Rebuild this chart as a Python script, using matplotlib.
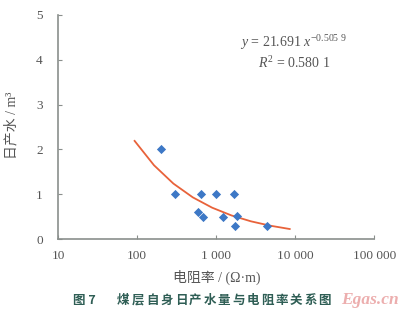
import numpy as np
import matplotlib
matplotlib.use("Agg")
import matplotlib.pyplot as plt
from matplotlib.ticker import FixedLocator, NullLocator

# Data
resistivity = [198, 305, 643, 990, 1665, 589, 683, 1219, 1850, 1725, 4375]
water = [2.0, 1.0, 1.0, 1.0, 1.0, 0.60, 0.50, 0.50, 0.52, 0.28, 0.28]
fit_a = 21.691
fit_b = -0.5059
fit_xmin, fit_xmax = 93, 8500
xticks = [10, 100, 1000, 10000, 100000]
xticklabels = ["10", "100", "1 000", "10 000", "100 000"]
yticks = [0, 1, 2, 3, 4, 5]
caption_title = "煤层自身日产水量与电阻率关系图"

plt.rcParams["mathtext.fontset"] = "custom"
plt.rcParams["mathtext.it"] = "Liberation Serif:italic"
plt.rcParams["mathtext.rm"] = "Liberation Serif"

serif = ["Liberation Serif", "DejaVu Serif"]
mixed = ["Liberation Serif", "Noto Sans CJK SC", "DejaVu Sans"]
cjk = ["Noto Sans CJK SC", "DejaVu Sans"]
tc = "#555555"
ac = "#8a8f8c"
capc = "#2f5e55"

W, H = 400, 313
fig = plt.figure(figsize=(W / 100, H / 100), dpi=100)
ax = fig.add_axes([0.145, 0.2364, 0.791, 0.7157])

fx = np.logspace(np.log10(fit_xmin), np.log10(fit_xmax), 9)
fy = fit_a * fx ** fit_b
ax.plot(fx, fy, color="#e8623a", lw=1.3, zorder=2)
ax.scatter(resistivity, water, marker="D", s=22, color="#3d78c6", zorder=3, linewidths=0)

ax.set_xscale("log")
ax.set_xlim(10, 100000)
ax.set_ylim(0, 5)
ax.xaxis.set_major_locator(FixedLocator(xticks))
ax.xaxis.set_minor_locator(NullLocator())
ax.set_xticklabels(xticklabels)
ax.set_yticks(yticks)
ax.set_yticklabels([str(v) for v in yticks])
for s in ["top", "right"]:
    ax.spines[s].set_visible(False)
for s in ["left", "bottom"]:
    ax.spines[s].set_color(ac)
    ax.spines[s].set_linewidth(1.2)
ax.tick_params(axis="both", direction="in", length=3, color=ac, labelcolor=tc,
               labelsize=9.5)
ax.tick_params(axis="x", pad=8)
ax.tick_params(axis="y", pad=11)
for lab in ax.get_xticklabels() + ax.get_yticklabels():
    lab.set_fontfamily(serif)

ax.text(0.745, 0.875, r"$y$ = 21.691 $x^{-0.505\ 9}$", transform=ax.transAxes,
        ha="center", va="center", fontsize=10, color=tc, family=serif)
ax.text(0.745, 0.785, r"$R^{2}$ = 0.580 1", transform=ax.transAxes,
        ha="center", va="center", fontsize=10, color=tc, family=serif)

fig.text(0.03, 0.60, "日产水 / m³", rotation=90, ha="center", va="center",
         fontsize=10, color=tc, family=mixed)
fig.text(0.542, 0.115, "电阻率 / (Ω·m)", ha="center", va="center",
         fontsize=10, color=tc, family=mixed)
cap_y = 0.03
fig.text(73 / W, cap_y, "图 7", ha="left", va="baseline",
         fontsize=9, color=capc, family=cjk, fontweight="bold")
for i, ch in enumerate(caption_title):
    fig.text((117 + i * 14.4) / W, cap_y, ch, ha="left", va="baseline",
             fontsize=9, color=capc, family=cjk, fontweight="bold")
fig.text(0.997, 0.042, "Egas.cn", ha="right", va="center", fontsize=12.5,
         color="#e89a9a", family=serif, style="italic", fontweight="bold", alpha=0.8)

fig.savefig("out.png", dpi=100, facecolor="white")
